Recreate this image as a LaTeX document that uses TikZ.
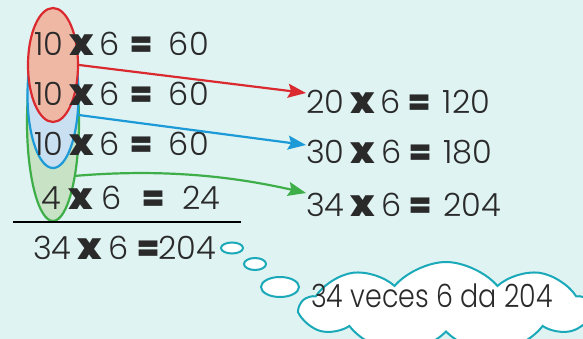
\documentclass[tikz,border=0pt]{standalone}
\usepackage{fontspec}
\setmainfont{Poppins}[UprightFont={* Light}, BoldFont={* Black}]
\usepackage{tikz}
\usetikzlibrary{calc, positioning, arrows.meta, shapes.geometric, shapes.symbols}

\definecolor{bgcyan}{HTML}{E0F3F3}
\definecolor{redline}{HTML}{DA2A2F}
\definecolor{redfill}{HTML}{EFB8A5}
\definecolor{blueline}{HTML}{1C9AD8}
\definecolor{bluefill}{HTML}{C9E0F2}
\definecolor{greenline}{HTML}{3DAE48}
\definecolor{greenfill}{HTML}{C8E2C5}
\definecolor{tealline}{HTML}{1AA9B8}
\definecolor{inkgray}{HTML}{2A2A2A}

\newcommand{\mulx}{\scalebox{1.15}{\textbf{x}}}
\newcommand{\eqs}{\textbf{=}}
\newcommand{\gap}[1]{\hspace{#1pt}}

\begin{document}
\begin{tikzpicture}[x=1pt, y=-1pt,
    row/.style={anchor=base west, inner sep=0pt, font=\fontsize{32}{34}\selectfont, text=inkgray},
    group/.style={ellipse, draw, line width=2.2pt, inner sep=0pt},
    link/.style={line width=2.2pt, -{Stealth[length=18pt,width=14pt,inset=3pt]}},
    puff/.style={ellipse, draw=tealline, fill=white, line width=2pt, inner sep=0pt}]
  \fill[bgcyan] (0,0) rectangle (583,339);
  \clip (0,0) rectangle (583,339);

  % groups of rows
  \node[group, draw=greenline, fill=greenfill, minimum width=52pt, minimum height=198pt] (egreen) at (53,122) {};
  \node[group, draw=blueline, fill=bluefill, minimum width=51pt, minimum height=146pt] (eblue) at (53,95) {};
  \node[group, draw=redline, fill=redfill, minimum width=50pt, minimum height=114pt] (ered) at (53,65) {};

  % rows of the sum
  \node[row] (r1) at (34,56) {10\gap{6}\mulx\gap{6}6\gap{12}\eqs\gap{17}60};
  \node[row] (r2) at (34,106) {10\gap{6}\mulx\gap{6}6\gap{12}\eqs\gap{17}60};
  \node[row] (r3) at (34,156) {10\gap{6}\mulx\gap{6}6\gap{12}\eqs\gap{17}60};
  \node[row] (r4) at (41,209) {4\gap{8}\mulx\gap{8}6\gap{22}\eqs\gap{19}24};
  \coordinate (ruleL) at (13,222);
  \coordinate (ruleR) at (241,222);
  \draw[line width=2pt, black] (ruleL) -- (ruleR);
  \node[row] (total) at (33,259) {34\gap{6}\mulx\gap{6}6\gap{10}\eqs\gap{0}204};

  % partial sums
  \node[row] (s1) at (306,114) {20\gap{6}\mulx\gap{6}6\gap{9}\eqs\gap{13}120};
  \node[row] (s2) at (306,164) {30\gap{6}\mulx\gap{6}6\gap{9}\eqs\gap{13}180};
  \node[row] (s3) at (306,216) {34\gap{6}\mulx\gap{6}6\gap{9}\eqs\gap{13}204};

  \draw[link, redline] (ered.east) -- (s1.west |- 0,93);
  \draw[link, blueline] (eblue.-38) -- (s2.west |- 0,145);
  \draw[link, greenline] (egreen.-67) .. controls (170,168) and (240,178) .. (s3.west |- 0,193);

  % thought bubble
  \node[puff, minimum width=22pt, minimum height=11pt] (b1) at (232,248) {};
  \node[puff, minimum width=22pt, minimum height=12pt] (b2) at (255,264) {};
  \node[puff, minimum width=38pt, minimum height=20pt] (b3) at (280,287) {};
  \node[cloud, cloud puffs=9, cloud puff arc=100, aspect=3.4, draw=tealline, fill=white, line width=2pt,
        minimum width=290pt, minimum height=92pt] (bubble) at (446,308) {};
  \node[row, anchor=base west] (thought) at (311,307) {\scalebox{0.84}[1]{34 veces 6 da 204}};
\end{tikzpicture}
\end{document}
